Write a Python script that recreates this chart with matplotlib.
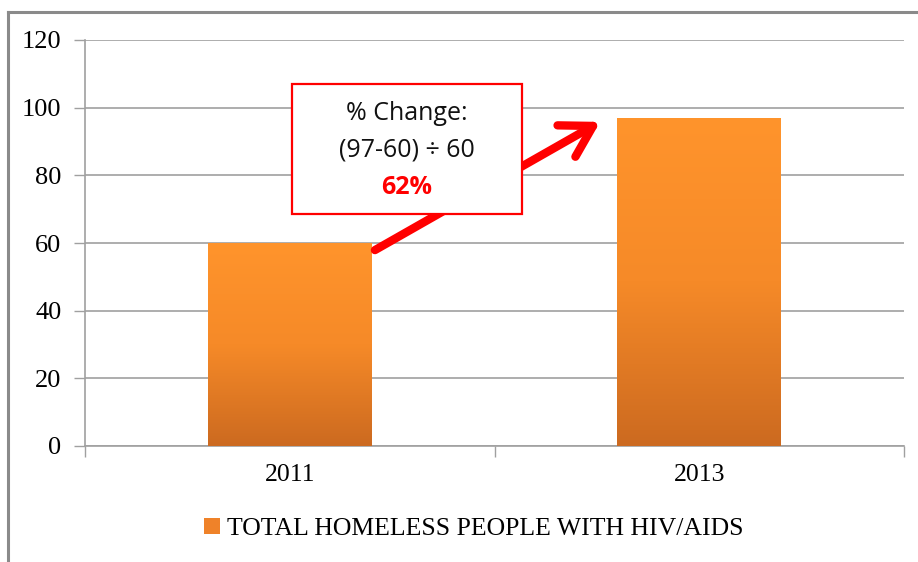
import numpy as np
import matplotlib
matplotlib.use("Agg")
import matplotlib.pyplot as plt
from matplotlib.patches import Rectangle, Patch
from matplotlib.lines import Line2D
from matplotlib.colors import LinearSegmentedColormap

years = ["2011", "2013"]
counts = [60, 97]
series_name = "TOTAL HOMELESS PEOPLE WITH HIV/AIDS"
y_ticks = [0, 20, 40, 60, 80, 100, 120]
note_lines = ["% Change:", "(97-60) \u00f7 60", "62%"]

W, H = 918, 562
fig = plt.figure(figsize=(W / 100, H / 100), dpi=100)
ax = fig.add_axes([85 / W, 1 - 446 / H, (904 - 85) / W, (446 - 40) / H])

grid_c = "#a0a0a0"
x = np.arange(len(years))
bars = ax.bar(x, counts, width=0.4, color="none", edgecolor="none", zorder=3)

# vertical orange gradient inside each bar
cmap = LinearSegmentedColormap.from_list("org", ["#cc6a20", "#f68a28", "#ff942c"])
grad = np.linspace(0, 1, 256).reshape(-1, 1)
for b in bars:
    x0, w, h = b.get_x(), b.get_width(), b.get_height()
    im = ax.imshow(grad, cmap=cmap, origin="lower", aspect="auto",
                   extent=(x0, x0 + w, 0, h), zorder=3)
    im.set_clip_path(b)

ax.set_xlim(-0.5, 1.5)
ax.set_ylim(0, 120)
ax.set_yticks(y_ticks)
ax.set_yticklabels([str(v) for v in y_ticks], family="Liberation Serif", fontsize=19)
ax.set_xticks([-0.5, 0.5, 1.5])
ax.set_xticklabels([])
ax.set_xticks(x, minor=True)
ax.set_xticklabels(years, minor=True, family="Liberation Serif", fontsize=18.5)
ax.tick_params(axis="x", which="minor", length=0, pad=13)
ax.tick_params(axis="x", which="major", length=8, color=grid_c, width=1)
ax.tick_params(axis="y", length=8, color=grid_c, width=1, pad=9)
ax.yaxis.grid(True, color=grid_c, lw=1.2, zorder=0)
ax.set_axisbelow(True)
for s in ["top", "right"]:
    ax.spines[s].set_visible(False)
for s in ["left", "bottom"]:
    ax.spines[s].set_color(grid_c)
    ax.spines[s].set_linewidth(1.2)

# arrow from the 2011 bar top towards the 2013 bar, passing under the note box
ax.annotate("", xy=(0.758, 95.8), xytext=(0.208, 57.9),
            arrowprops=dict(arrowstyle="->,head_length=2.2,head_width=1.3",
                            color="#ff0000", lw=6, capstyle="round",
                            joinstyle="round", shrinkA=0, shrinkB=0),
            zorder=4)

# note box in figure pixels
bx0, by0, bx1, by1 = 292, 84, 522, 214
fig.patches.append(Rectangle((bx0 / W, 1 - by1 / H), (bx1 - bx0) / W, (by1 - by0) / H,
                             transform=fig.transFigure, facecolor="white",
                             edgecolor="#ff0000", lw=1.6, zorder=5))
cx = (bx0 + bx1) / 2 / W
fig.text(cx, 1 - 113 / H, note_lines[0], ha="center", va="center",
         family="Open Sans", fontsize=18, color="#111111", zorder=6)
fig.text(cx, 1 - 150 / H, note_lines[1], ha="center", va="center",
         family="Open Sans", fontsize=18, color="#111111", zorder=6)
fig.text(cx, 1 - 187 / H, note_lines[2], ha="center", va="center",
         family="Open Sans", fontsize=18, fontweight="bold", color="#ff0000", zorder=6)

# legend
handle = Patch(facecolor="#ef8229", edgecolor="none")
fig.legend([handle], [series_name], loc="center", bbox_to_anchor=(474 / W, 1 - 529 / H),
           frameon=False, prop=dict(family="Liberation Serif", size=18.5),
           handlelength=0.6, handleheight=0.6, handletextpad=0.3)

# outer frame, open at right and bottom
fc = "#8a8a8a"
fig.add_artist(Line2D([8 / W, 8 / W], [0, 1 - 12 / H], transform=fig.transFigure,
                      color=fc, lw=2.2))
fig.add_artist(Line2D([8 / W, 1], [1 - 12 / H, 1 - 12 / H], transform=fig.transFigure,
                      color=fc, lw=2.2))

fig.savefig("out.png", dpi=100)
